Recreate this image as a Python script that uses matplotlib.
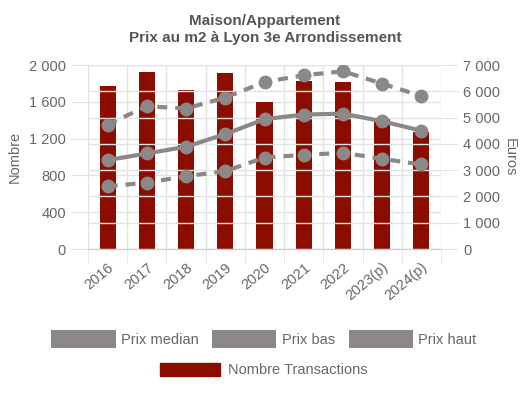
import matplotlib.pyplot as plt
from matplotlib.lines import Line2D
from matplotlib.patches import Patch
import numpy as np

plt.rcParams['font.family'] = ['Liberation Sans', 'DejaVu Sans']

# --- data --------------------------------------------------------------------
years = ["2016", "2017", "2018", "2019", "2020", "2021", "2022", "2023(p)", "2024(p)"]
transactions = [1770, 1920, 1730, 1910, 1595, 1823, 1812, 1413, 1275]
prix_median = [3380, 3635, 3890, 4370, 4940, 5115, 5150, 4860, 4500]
prix_bas = [2390, 2520, 2770, 2960, 3480, 3580, 3660, 3430, 3215]
prix_haut = [4735, 5430, 5345, 5760, 6355, 6610, 6760, 6290, 5820]

BAR = "#8b0d00"
LINE = "#8c8888"
GRID = "#e3e3e3"
TXT = "#666666"

fig = plt.figure(figsize=(5.28, 3.93), dpi=100)
ax = fig.add_axes([0.1667, 0.3664, 0.6686, 0.4682])
ax2 = ax.twinx()

x = np.arange(len(years))
ax.bar(x, transactions, width=0.41, color=BAR, zorder=2)

dash = (0, (2.4, 1.9))
ax2.plot(x, prix_median, color=LINE, lw=3, marker="o", ms=9, zorder=3)
ax2.plot(x, prix_bas, color=LINE, lw=3, ls=dash, marker="o", ms=9, zorder=3)
ax2.plot(x, prix_haut, color=LINE, lw=3, ls=dash, marker="o", ms=9, zorder=3)

ax.set_xlim(-0.5, len(years) - 0.5)
ax.set_ylim(0, 2000)
ax2.set_ylim(0, 7000)
ax.set_yticks(range(0, 2001, 400))
ax.set_yticklabels([f"{v:,}".replace(",", " ") for v in range(0, 2001, 400)])
ax2.set_yticks(range(0, 7001, 1000))
ax2.set_yticklabels([f"{v:,}".replace(",", " ") for v in range(0, 7001, 1000)])

ax.set_xticks(x)
ax.set_xticklabels(years, rotation=40, ha="right", rotation_mode="anchor")
ax.set_xticks(np.arange(-0.5, len(years)), minor=True)
ax.tick_params(axis="x", which="major", length=0, pad=8, labelsize=10.5, labelcolor=TXT)
ax.tick_params(axis="x", which="minor", length=10, color=GRID)
ax.grid(axis="x", which="minor", color=GRID, lw=1, zorder=0)
ax.grid(axis="y", color=GRID, lw=1, zorder=0)
ax2.grid(axis="y", color=GRID, lw=1, zorder=0)
ax.set_axisbelow(True)
ax2.set_axisbelow(True)

ax.tick_params(axis="y", length=12, color=GRID, labelsize=10.5, labelcolor=TXT, pad=4)
ax2.tick_params(axis="y", length=12, color=GRID, labelsize=10.5, labelcolor=TXT, pad=4)

for a in (ax, ax2):
    for s in a.spines.values():
        s.set_visible(False)
ax.spines["bottom"].set_visible(True)
ax.spines["bottom"].set_color("#cccccc")

ax.set_ylabel("Nombre", color=TXT, fontsize=10.5, labelpad=5)
ax2.set_ylabel("Euros", color=TXT, fontsize=10.5, rotation=270, labelpad=12)

fig.text(0.502, 0.924, "Maison/Appartement\nPrix au m2 à Lyon 3e Arrondissement",
         ha="center", va="center", fontsize=11, fontweight="bold", color="#555555",
         linespacing=1.25)

h1 = [Line2D([], [], color=LINE, lw=13, solid_capstyle="butt"),
      Line2D([], [], color=LINE, lw=13, solid_capstyle="butt"),
      Line2D([], [], color=LINE, lw=13, solid_capstyle="butt")]
fig.legend(h1, ["Prix median", "Prix bas", "Prix haut"], ncol=3,
           loc="center", bbox_to_anchor=(0.5, 0.135), frameon=False,
           handlelength=4.4, columnspacing=0.9, handletextpad=0.4,
           fontsize=10.5, labelcolor=TXT)
h2 = [Patch(color=BAR)]
fig.legend(h2, ["Nombre Transactions"], loc="center", bbox_to_anchor=(0.5, 0.058),
           frameon=False, handlelength=4.1, handleheight=1.0, handletextpad=0.6,
           fontsize=10.5, labelcolor=TXT)

fig.savefig("out.png", dpi=100)
